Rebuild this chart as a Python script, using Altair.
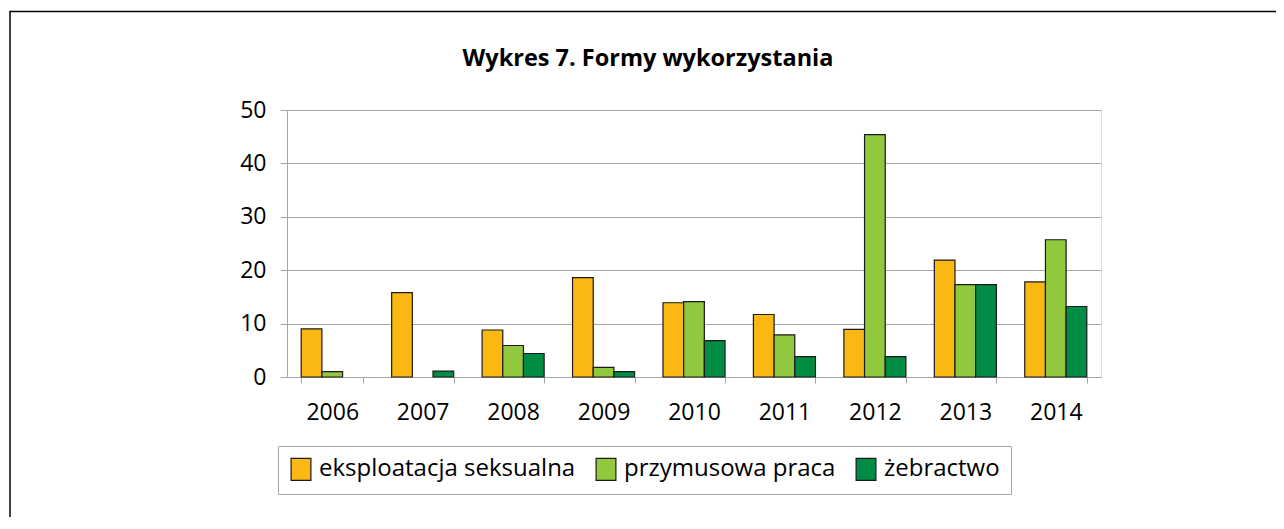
import altair as alt
import pandas as pd

years = ["2006", "2007", "2008", "2009", "2010", "2011", "2012", "2013", "2014"]
series = ["eksploatacja seksualna", "przymusowa praca", "żebractwo"]
eksploatacja = [9.0, 15.8, 8.8, 18.6, 13.9, 11.7, 8.9, 21.9, 17.8]
praca = [1.0, 0.0, 5.9, 1.8, 14.1, 7.9, 45.4, 17.3, 25.7]
zebractwo = [0.0, 1.1, 4.4, 1.0, 6.8, 3.8, 3.8, 17.3, 13.2]
colors = ["#FBB813", "#92C83E", "#008C45"]
y_ticks = [0, 10, 20, 30, 40, 50]

rows = []
for i, y in enumerate(years):
    for s, vals in zip(series, [eksploatacja, praca, zebractwo]):
        if vals[i] > 0:
            rows.append({"rok": y, "seria": s, "wartosc": vals[i]})
df = pd.DataFrame(rows)

FONT = "Open Sans"

bars = alt.Chart(df).mark_bar(stroke="#1a1a1a", strokeWidth=1.2).encode(
    x=alt.X("rok:N", sort=years,
            scale=alt.Scale(domain=years, paddingInner=0.314, paddingOuter=0.157),
            axis=alt.Axis(title=None, labelAngle=0, labelFontSize=23, labelFont=FONT,
                          labelColor="#000000", labelPadding=18, tickSize=6,
                          tickColor="#A6A6A6", domainColor="#A6A6A6", tickBand="extent",
                          grid=False)),
    xOffset=alt.XOffset("seria:N", sort=series, scale=alt.Scale(domain=series, paddingInner=0, paddingOuter=0)),
    y=alt.Y("wartosc:Q",
            scale=alt.Scale(domain=[0, 50], nice=False),
            axis=alt.Axis(title=None, values=y_ticks, labelFontSize=23, labelFont=FONT,
                          labelColor="#000000", labelPadding=14, tickSize=7,
                          tickColor="#A6A6A6", domainColor="#A6A6A6",
                          gridColor="#A6A6A6", gridWidth=1)),
    fill=alt.Fill("seria:N", sort=series,
                  scale=alt.Scale(domain=series, range=colors),
                  legend=alt.Legend(title=None, orient="none", legendX=-9, legendY=336,
                                    direction="horizontal", labelFontSize=24, labelFont=FONT,
                                    labelColor="#000000", labelLimit=500,
                                    symbolType="M-0.9,-1H0.9V1H-0.9Z",
                                    symbolSize=484, symbolStrokeColor="#1a1a1a",
                                    symbolStrokeWidth=1.2, columnPadding=17, labelOffset=6,
                                    padding=11, strokeColor="#A6A6A6", fillColor="#FFFFFF")),
)

frame = alt.Chart(alt.Data(values=[{}])).mark_rect(
    fill=None, stroke="#000000", strokeWidth=1.5
).encode(
    x=alt.value(-277), x2=alt.value(1100), y=alt.value(-98.5), y2=alt.value(600)
)

chart = alt.layer(frame, bars).properties(
    width=814, height=267,
    title=alt.TitleParams("Wykres 7. Formy wykorzystania", font=FONT, fontSize=23.5,
                          fontWeight="bold", color="#000000", anchor="middle",
                          baseline="alphabetic",
                          frame="group", dx=-46, offset=-79),
    autosize=alt.AutoSizeParams(type="none"),
    padding={"left": 279, "top": 102, "right": 175, "bottom": 140},
).configure_view(stroke=None).configure(background="#FFFFFF")

chart.save("out.html", embed_options={"renderer": "svg", "actions": False})
